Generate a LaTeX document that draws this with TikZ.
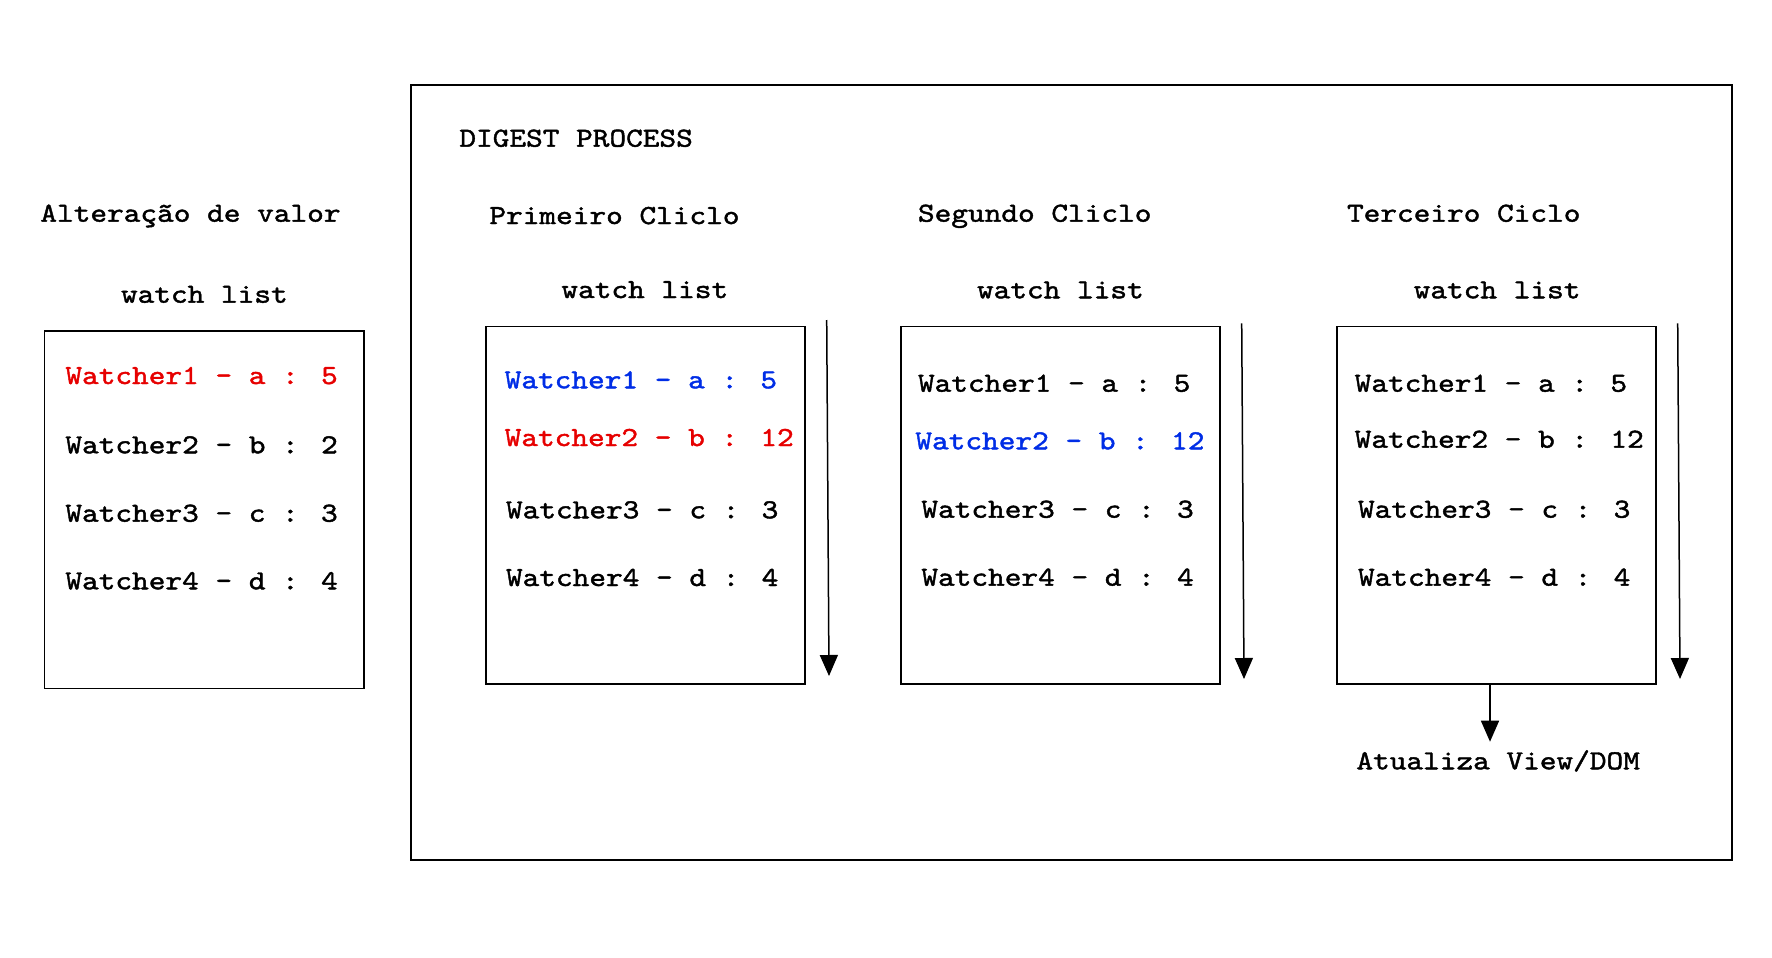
\documentclass[tikz,border=0pt]{standalone}
\usepackage{fontspec}
\usetikzlibrary{arrows.meta}
\newfontfamily\cour{lmmono10-regular.otf}[FakeStretch=1.155,FakeBold=1.5]
\definecolor{wred}{RGB}{230,0,0}
\definecolor{wblue}{RGB}{0,45,230}
\tikzset{
  lbl/.style={anchor=base west,inner sep=0pt,xshift=-1.5pt,font=\cour\fontsize{27.5}{30}\selectfont},
  boxn/.style={draw,line width=1.5pt,inner sep=0pt,anchor=north west},
  arr/.style={line width=1.5pt,-{Triangle[length=21pt,width=18pt]}},
}
\begin{document}
\begin{tikzpicture}[x=1pt,y=-1pt]
\useasboundingbox (0,0) rectangle (1772,958);
% outer frame
\node[boxn,minimum width=1321pt,minimum height=775pt] (frame) at (410,84) {};
% left column
\node[lbl] (alt) at (41.7,221.7) {Alteração de valor};
\node[lbl] (wl0) at (122.3,302.7) {watch list};
\node[boxn,minimum width=319.6pt,minimum height=357.7pt] (b0) at (43.7,330) {};
\node[lbl,text=wred] (w01) at (66.7,384) {Watcher1 - a : 5};
\node[lbl] (w02) at (66.7,453.3) {Watcher2 - b : 2};
\node[lbl] (w03) at (66.7,521.7) {Watcher3 - c : 3};
\node[lbl] (w04) at (66.7,589.3) {Watcher4 - d : 4};
% digest
\node[lbl] (dig) at (460.7,146.7) {DIGEST PROCESS};
% first cycle
\node[lbl] (c1) at (490.7,224) {Primeiro Cliclo};
\node[lbl] (wl1) at (562.7,298) {watch list};
\node[boxn,minimum width=319pt,minimum height=357.6pt] (b1) at (485,325.7) {};
\node[lbl,text=wblue] (w11) at (506,388.3) {Watcher1 - a : 5};
\node[lbl,text=wred] (w12) at (506,446) {Watcher2 - b : 12};
\node[lbl] (w13) at (507.3,518.3) {Watcher3 - c : 3};
\node[lbl] (w14) at (507.3,586) {Watcher4 - d : 4};
\coordinate (a1s) at (826.7,320);
\coordinate (a1e) at (829,676);
\draw[arr] (a1s) -- (a1e);
% second cycle
\node[lbl] (c2) at (919.3,221.7) {Segundo Cliclo};
\node[lbl] (wl2) at (978.3,298.3) {watch list};
\node[boxn,minimum width=319pt,minimum height=357.6pt] (b2) at (900,325.7) {};
\node[lbl] (w21) at (919.3,391.7) {Watcher1 - a : 5};
\node[lbl,text=wblue] (w22) at (916.7,449.3) {Watcher2 - b : 12};
\node[lbl] (w23) at (922.7,517.7) {Watcher3 - c : 3};
\node[lbl] (w24) at (922.7,585.7) {Watcher4 - d : 4};
\coordinate (a2s) at (1241.7,323.3);
\coordinate (a2e) at (1244,679);
\draw[arr] (a2s) -- (a2e);
% third cycle
\node[lbl] (c3) at (1348.3,221.7) {Terceiro Ciclo};
\node[lbl] (wl3) at (1415,298.3) {watch list};
\node[boxn,minimum width=319pt,minimum height=357.6pt] (b3) at (1336,325.7) {};
\node[lbl] (w31) at (1356,391.7) {Watcher1 - a : 5};
\node[lbl] (w32) at (1356,447.7) {Watcher2 - b : 12};
\node[lbl] (w33) at (1359.3,517.7) {Watcher3 - c : 3};
\node[lbl] (w34) at (1359.3,585.7) {Watcher4 - d : 4};
\coordinate (a3s) at (1677.7,323.3);
\coordinate (a3e) at (1680,679);
\draw[arr] (a3s) -- (a3e);
% update
\node[lbl] (upd) at (1357.7,769.3) {Atualiza View/DOM};
\coordinate (ut) at (1490,741.7);
\draw[arr] (ut |- b3.south) -- (ut);
\end{tikzpicture}
\end{document}
